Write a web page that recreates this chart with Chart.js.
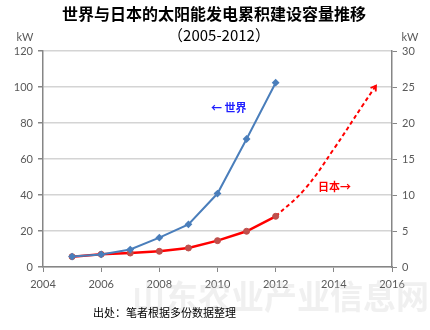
<!DOCTYPE html>
<html>
<head>
<meta charset="utf-8">
<script src="https://cdn.jsdelivr.net/npm/chart.js@4"></script>
<style>
  html, body { margin: 0; padding: 0; background: #fff; }
  canvas { display: block; }
</style>
</head>
<body>
<canvas id="chartSolar" width="430" height="330"></canvas>
<script>
// Data
var years = [2005, 2006, 2007, 2008, 2009, 2010, 2011, 2012];
var worldValues = [5.8, 7.0, 9.7, 16.3, 23.7, 40.8, 71.1, 102.4];
var japanValues = [1.44, 1.76, 1.94, 2.18, 2.64, 3.66, 4.96, 7.04];
var projYears = [2012, 2013, 2014, 2015, 2015.45];
var projJapan = [7.04, 10.8, 16.4, 22.5, 25.2];
var leftTicks = [0, 20, 40, 60, 80, 100, 120];
var rightTicks = [0, 5, 10, 15, 20, 25, 30];
var xTicks = [2004, 2006, 2008, 2010, 2012, 2014, 2016];

var cjk = '"Noto Sans CJK SC", sans-serif';
var numFont = 'Lato, "Open Sans", sans-serif';

function pairs(xs, ys) {
    return xs.map(function (x, i) { return { x: x, y: ys[i] }; });
}

// titles, notes and the arrow at the end of the dashed line
var extras = {
    id: 'extras',
    afterDatasetsDraw: function (chart) {
        var ctx = chart.ctx;
        ctx.save();

        // arrow head on the forecast
        var pts = chart.getDatasetMeta(2).data;
        var a = pts[pts.length - 2], b = pts[pts.length - 1];
        var ang = Math.atan2(b.y - a.y, b.x - a.x);
        ctx.strokeStyle = '#ff0000';
        ctx.lineWidth = 1.8;
        ctx.setLineDash([]);
        ctx.beginPath();
        ctx.moveTo(b.x - 6 * Math.cos(ang - 0.55), b.y - 6 * Math.sin(ang - 0.55));
        ctx.lineTo(b.x, b.y);
        ctx.lineTo(b.x - 6 * Math.cos(ang + 0.55), b.y - 6 * Math.sin(ang + 0.55));
        ctx.stroke();

        ctx.textBaseline = 'middle';
        ctx.textAlign = 'center';
        ctx.fillStyle = '#000';
        ctx.font = 'bold 16px ' + cjk;
        ctx.fillText('世界与日本的太阳能发电累积建设容量推移', 214, 14);
        ctx.font = '15px ' + cjk;
        ctx.fillText('（2005-2012）', 219, 35);

        ctx.fillStyle = '#595959';
        ctx.font = '11px ' + numFont;
        ctx.fillText('kW', 25, 37);
        ctx.fillText('kW', 410, 37);

        ctx.textAlign = 'left';
        ctx.font = 'bold 11px ' + cjk;
        ctx.fillStyle = '#1f1fff';
        ctx.fillText('← 世界', 211, 108);
        ctx.fillStyle = '#ff0000';
        ctx.fillText('日本→', 318, 187);

        // watermark
        ctx.font = 'bold 33px ' + cjk;
        ctx.fillStyle = 'rgba(200,200,200,0.28)';
        ctx.fillText('山东农业产业信息网', 132, 296);

        ctx.fillStyle = '#000';
        ctx.font = '11px ' + cjk;
        ctx.fillText('出处：笔者根据多份数据整理', 93, 313);
        ctx.restore();
    }
};

var data = {
    datasets: [{
        label: '世界',
        data: pairs(years, worldValues),
        yAxisID: 'y',
        borderColor: '#4a7ebb',
        backgroundColor: '#4a7ebb',
        borderWidth: 2,
        pointStyle: 'rectRot',
        pointRadius: 2.5,
        tension: 0
    }, {
        label: '日本',
        data: pairs(years, japanValues),
        yAxisID: 'y2',
        borderColor: '#ff0000',
        backgroundColor: '#c0504d',
        pointBorderColor: '#be4b48',
        pointBorderWidth: 1,
        borderWidth: 2.5,
        pointRadius: 3,
        tension: 0
    }, {
        label: '日本 (预测)',
        data: pairs(projYears, projJapan),
        yAxisID: 'y2',
        borderColor: '#ff0000',
        borderWidth: 2,
        borderDash: [4, 3],
        pointRadius: 0,
        tension: 0.4
    }]
};

// Options
var options = {
    responsive: false,
    animation: false,
    layout: { padding: { top: 51, left: 0, right: 0, bottom: 0 } },
    plugins: {
        legend: { display: false },
        tooltip: { enabled: false }
    },
    scales: {
        x: {
            type: 'linear',
            min: 2004,
            max: 2016,
            afterFit: function (s) { s.height = 63; },
            afterBuildTicks: function (s) { s.ticks = xTicks.map(function (v) { return { value: v }; }); },
            border: { color: '#868686', width: 1.5 },
            grid: { drawOnChartArea: false, color: '#868686', tickLength: 5 },
            ticks: {
                color: '#595959',
                font: { family: numFont, size: 11 },
                padding: 6,
                maxRotation: 0,
                callback: function (v) { return String(v); }
            }
        },
        y: {
            position: 'left',
            min: 0,
            max: 120,
            afterFit: function (s) { s.width = 43; },
            afterBuildTicks: function (s) { s.ticks = leftTicks.map(function (v) { return { value: v }; }); },
            border: { color: '#868686', width: 1.5 },
            grid: { color: '#d4d4d4', lineWidth: 1.5, tickColor: '#868686', tickLength: 5 },
            ticks: { color: '#595959', font: { family: numFont, size: 11 }, padding: 5 }
        },
        y2: {
            position: 'right',
            min: 0,
            max: 30,
            afterFit: function (s) { s.width = 38; },
            afterBuildTicks: function (s) { s.ticks = rightTicks.map(function (v) { return { value: v }; }); },
            border: { color: '#868686', width: 1.5 },
            grid: { drawOnChartArea: false, color: '#868686', tickLength: 5 },
            ticks: { color: '#595959', font: { family: numFont, size: 11 }, padding: 5 }
        }
    }
};

var ctx = document.getElementById('chartSolar').getContext('2d');
var solarChart = new Chart(ctx, {
    type: 'line',
    data: data,
    options: options,
    plugins: [extras]
});
</script>
</body>
</html>
